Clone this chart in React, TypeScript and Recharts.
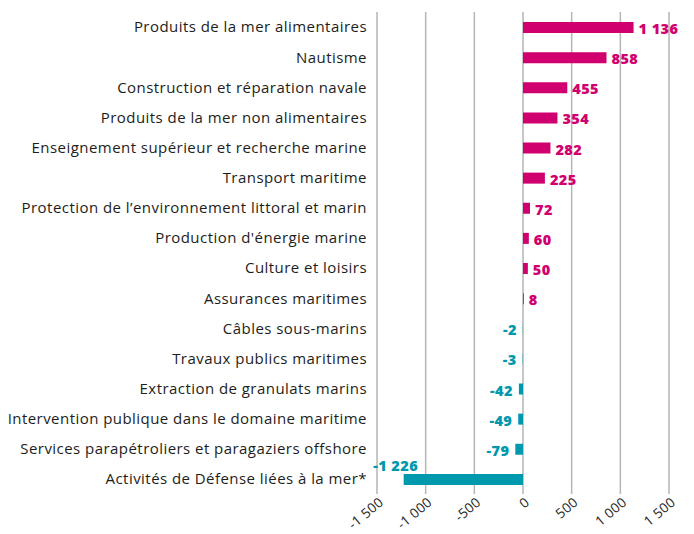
import React from 'react';
import { BarChart, Bar, XAxis, YAxis, CartesianGrid, Cell, LabelList } from 'recharts';

const categories = [
  'Produits de la mer alimentaires',
  'Nautisme',
  'Construction et réparation navale',
  'Produits de la mer non alimentaires',
  'Enseignement supérieur et recherche marine',
  'Transport maritime',
  'Protection de l\u2019environnement littoral et marin',
  "Production d'énergie marine",
  'Culture et loisirs',
  'Assurances maritimes',
  'Câbles sous-marins',
  'Travaux publics maritimes',
  'Extraction de granulats marins',
  'Intervention publique dans le domaine maritime',
  'Services parapétroliers et paragaziers offshore',
  'Activités de Défense liées à la mer*',
];

const values = [1136, 858, 455, 354, 282, 225, 72, 60, 50, 8, -2, -3, -42, -49, -79, -1226];

const xTicks = [-1500, -1000, -500, 0, 500, 1000, 1500];

const POS = '#D0006F';
const NEG = '#0098AD';
const FONT = '"Open Sans", sans-serif';

const data = categories.map((name, i) => ({ name, value: values[i] }));

// "1 136" style numbers, hyphen for minus
const fmt = (v: number) => {
  const s = Math.abs(v).toString().replace(/\B(?=(\d{3})+(?!\d))/g, ' ');
  return (v < 0 ? '-' : '') + s;
};

const XTick = (props: any) => {
  const { x, y, payload } = props;
  return (
    <g transform={`translate(${x + 5},${y - 1})`}>
      <text
        transform="rotate(-40)"
        textAnchor="end"
        dominantBaseline="middle"
        fontSize={13.5}
        letterSpacing={0.3}
        fontFamily={FONT}
        fill="#1d1d1b"
      >
        {fmt(payload.value)}
      </text>
    </g>
  );
};

const ValueLabel = (props: any) => {
  const { x, y, width, height, value } = props;
  const left = Math.min(x, x + width);
  const right = Math.max(x, x + width);
  const cy = y + height / 2;
  const common = { fontSize: 14.5, fontWeight: 800, fontFamily: FONT, letterSpacing: 0.4, dominantBaseline: 'central' as const };
  if (value >= 0) {
    return (
      <text x={right + 5} y={cy + 1} fill={POS} textAnchor="start" {...common}>
        {fmt(value)}
      </text>
    );
  }
  if (value < -1000) {
    return (
      <text x={left - 8} y={y - 8} fill={NEG} textAnchor="middle" {...common}>
        {fmt(value)}
      </text>
    );
  }
  return (
    <text x={left - 6} y={cy + 1} fill={NEG} textAnchor="end" {...common}>
      {fmt(value)}
    </text>
  );
};

const App: React.FC = () => {
  return (
    <BarChart
      width={686}
      height={526}
      data={data}
      layout="vertical"
      margin={{ top: 4, right: 25, bottom: 6, left: 0 }}
    >
      <CartesianGrid horizontal={false} stroke="#b5b5b5" strokeWidth={1.5} />
      <XAxis
        type="number"
        domain={[-1500, 1500]}
        ticks={xTicks}
        axisLine={false}
        tickLine={false}
        height={34}
        tick={<XTick />}
        interval={0}
      />
      <YAxis
        type="category"
        dataKey="name"
        width={369}
        axisLine={false}
        tickLine={false}
        tickMargin={4}
        interval={0}
        tick={{ fontSize: 15, fill: '#1d1d1b', fontFamily: FONT, letterSpacing: 0.45 }}
      />
      <Bar dataKey="value" barSize={11} isAnimationActive={false}>
        {data.map((d, i) => (
          <Cell key={`cell-${i}`} fill={d.value >= 0 ? POS : NEG} />
        ))}
        <LabelList dataKey="value" content={<ValueLabel />} />
      </Bar>
    </BarChart>
  );
};

export default App;
